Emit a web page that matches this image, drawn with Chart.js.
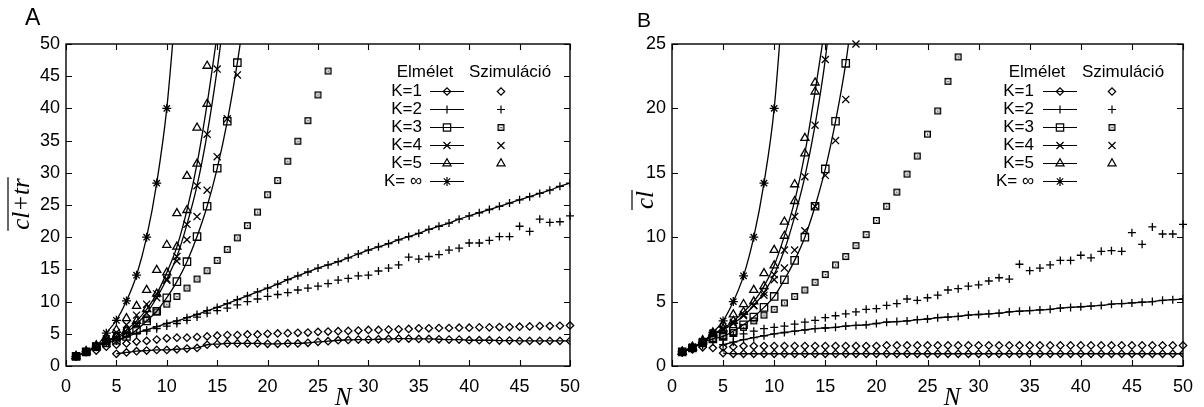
<!DOCTYPE html>
<html>
<head>
<meta charset="utf-8">
<script src="https://cdn.jsdelivr.net/npm/chart.js@4.4.0/dist/chart.umd.min.js"></script>
<style>
body { margin: 0; background: #fff; }
#wrapA { position: absolute; left: 0; top: 0; width: 590px; height: 407px; }
#wrapB { position: absolute; left: 600px; top: 0; width: 604px; height: 407px; }
</style>
</head>
<body>
<div id="wrapA"><canvas id="chartA" width="590" height="407"></canvas></div>
<div id="wrapB"><canvas id="chartB" width="604" height="407"></canvas></div>
<script>
// N values (x categories)
var N = [1, 2, 3, 4, 5, 6, 7, 8, 9, 10, 11, 12, 13, 14, 15, 16, 17, 18, 19, 20,
    21, 22, 23, 24, 25, 26, 27, 28, 29, 30, 31, 32, 33, 34, 35, 36, 37, 38, 39, 40,
    41, 42, 43, 44, 45, 46, 47, 48, 49, 50];
var kLabels = ['K=1', 'K=2', 'K=3', 'K=4', 'K=5', 'K= \u221E'];
var xTicks = [0, 5, 10, 15, 20, 25, 30, 35, 40, 45, 50];
var yTicksA = [0, 5, 10, 15, 20, 25, 30, 35, 40, 45, 50];
var yTicksB = [0, 5, 10, 15, 20, 25];

// panel A: cl+tr  (index 0 = N=1, null = no point)
var aTheoryK1 = [null, null, null, null, 1.9, 2.1, 2.3, 2.4, 2.5, 2.5, 2.6, 2.7, 2.8, 3.3,
    3.4, 3.5, 3.5, 3.5, 3.5, 3.45, 3.45, 3.5, 3.5, 3.6, 3.75, 3.85, 4.0, 4.05, 4.1, 4.1,
    4.15, 4.2, 4.25, 4.25, 4.2, 4.2, 4.15, 4.1, 4.1, 4.0, 4.0, 4.0, 3.95, 3.95, 3.9, 3.9,
    3.9, 3.9, 3.9, 3.9];
var aTheoryK2 = [null, null, null, null, 3.9, 4.5, 5.1, 5.6, 6.1, 6.6, 7.0, 7.5, 8.0, 8.6,
    9.1, 9.7, 10.3, 10.9, 11.5, 12.1, 12.7, 13.4, 14.0, 14.6, 15.2, 15.7, 16.2, 16.8, 17.4, 18.0,
    18.5, 19.0, 19.6, 20.1, 20.6, 21.2, 21.7, 22.2, 22.8, 23.3, 23.8, 24.3, 24.8, 25.3,
    25.8, 26.3, 26.8, 27.3, 27.9, 28.4];
var aTheoryK3 = [1.5, 2.2, 3.0, 3.6, 4.0, 4.6, 5.6, 7.0, 8.5, 10.6, 13.1, 16.2, 20.1, 24.8,
    30.7, 38.0, 47.1, 58];
var aTheoryK4 = [1.5, 2.2, 3.0, 3.9, 4.3, 5.2, 6.5, 8.2, 10.6, 13.5, 17.0, 22.0, 28.0, 36.0,
    46.1, 58];
var aTheoryK5 = [1.5, 2.2, 3.0, 4.0, 4.5, 5.6, 7.0, 8.8, 11.2, 14.5, 18.5, 24.2, 31.4, 40.7, 51.5];
var aTheoryKinf = [1.5, 2.2, 3.0, 5.1, 7.1, 10.1, 14.1, 20.0, 28.4, 40.0, 58];

var aSimK1 = [1.5, 2.2, 2.4, 3.0, 3.3, 3.5, 3.8, 3.9, 4.1, 4.3, 4.4, 4.4, 4.5, 4.6, 4.7, 4.8,
    4.8, 4.9, 4.9, 5.0, 5.05, 5.1, 5.15, 5.2, 5.3, 5.35, 5.4, 5.45, 5.5, 5.6, 5.6, 5.65, 5.7,
    5.75, 5.85, 5.85, 5.9, 5.9, 5.95, 5.95, 6.0, 6.0, 6.05, 6.05, 6.1, 6.15, 6.2, 6.2, 6.25, 6.3];
var aSimK2 = [1.5, 2.2, 3.0, 3.7, 4.2, 4.6, 5.0, 5.4, 5.8, 6.2, 6.6, 7.1, 7.6, 8.2, 8.6, 9.0,
    9.5, 10.0, 10.4, 10.8, 11.1, 11.4, 11.8, 12.1, 12.4, 12.8, 13.35, 13.6, 14.0, 14.1, 14.75,
    15.2, 15.7, 16.9, 16.6, 17.0, 17.3, 18.0, 18.3, 19.1, 19.1, 19.5, 20.1, 20.1, 21.7, 20.9,
    22.8, 22.3, 22.4, 23.3];
var aSimK3 = [1.5, 2.2, 3.0, 3.8, 4.6, 5.5, 6.4, 7.3, 8.4, 9.6, 10.8, 12.1, 13.5, 14.8, 16.4,
    18.1, 19.9, 21.8, 23.9, 26.6, 28.8, 31.8, 34.9, 38.1, 42.1, 45.8];
var aSimK4 = [1.5, 2.2, 3.1, 4.2, 5.2, 6.4, 7.9, 9.6, 11.2, 13.3, 16.3, 19.6, 23.2, 27.3, 32.5,
    38.4, 45.2];
var aSimK5 = [1.5, 2.3, 3.2, 4.4, 5.6, 7.4, 9.3, 11.8, 14.9, 18.8, 23.7, 29.5, 37.0, 46.6];

// panel B: cl
var bTheoryK1 = [null, null, null, null, 1.0, 0.95, 0.95, 0.95, 0.95, 0.95, 0.95, 0.95, 0.95,
    0.95, 0.95, 0.95, 0.95, 0.95, 0.95, 0.95, 0.95, 0.95, 0.95, 0.95, 0.95, 0.95, 0.95, 0.95,
    0.95, 0.95, 0.95, 0.95, 0.95, 0.95, 0.95, 0.95, 0.95, 0.95, 0.95, 0.95, 0.95, 0.95, 0.95,
    0.95, 0.95, 0.95, 0.95, 0.95, 0.95, 0.95];
var bTheoryK2 = [null, null, null, null, 1.65, 1.85, 2.05, 2.2, 2.35, 2.5, 2.6, 2.7, 2.8, 2.9,
    2.95, 3.0, 3.1, 3.15, 3.2, 3.3, 3.4, 3.45, 3.5, 3.6, 3.65, 3.75, 3.8, 3.85, 3.95, 4.0,
    4.05, 4.1, 4.2, 4.25, 4.3, 4.35, 4.4, 4.5, 4.55, 4.6, 4.65, 4.7, 4.8, 4.85, 4.9, 4.95,
    5.0, 5.1, 5.15, 5.2];
var bTheoryK3 = [1.1, 1.4, 1.8, 2.1, 2.3, 2.7, 3.2, 3.8, 4.55, 5.4, 6.7, 8.2, 10.0, 12.4, 15.3,
    19.0, 23.5, 29.5];
var bTheoryK4 = [1.1, 1.4, 1.8, 2.4, 2.8, 3.3, 3.9, 4.7, 5.7, 7.1, 9.0, 11.6, 14.7, 18.7, 23.8, 31];
var bTheoryK5 = [1.1, 1.4, 1.9, 2.5, 2.9, 3.5, 4.2, 5.0, 6.2, 7.8, 10.1, 12.8, 16.5, 21.3, 26.5];
var bTheoryKinf = [1.1, 1.5, 1.8, 2.6, 3.5, 5.0, 7.0, 10.0, 14.2, 20.0, 30];

var bSimK1 = [1.1, 1.3, 1.45, 1.4, 1.45, 1.5, 1.55, 1.55, 1.55, 1.55, 1.55, 1.55, 1.55, 1.55,
    1.55, 1.55, 1.55, 1.55, 1.55, 1.55, 1.6, 1.6, 1.6, 1.6, 1.6, 1.6, 1.6, 1.6, 1.6, 1.6, 1.6,
    1.6, 1.6, 1.6, 1.6, 1.6, 1.6, 1.6, 1.6, 1.6, 1.6, 1.6, 1.6, 1.6, 1.6, 1.6, 1.6, 1.6, 1.6, 1.6];
var bSimK2 = [1.0, 1.3, 1.6, 1.9, 2.1, 2.3, 2.5, 2.7, 2.9, 3.0, 3.1, 3.25, 3.4, 3.55, 3.75, 3.9,
    4.05, 4.2, 4.4, 4.45, 4.7, 4.85, 5.2, 5.1, 5.3, 5.5, 5.9, 6.0, 6.2, 6.3, 6.6, 6.85, 6.75,
    7.9, 7.4, 7.6, 7.85, 8.2, 8.2, 8.6, 8.4, 8.9, 8.95, 8.9, 10.35, 9.45, 10.8, 10.25, 10.25, 11.0];
var bSimK3 = [1.1, 1.4, 1.8, 2.1, 2.3, 2.6, 3.0, 3.5, 3.95, 4.4, 4.9, 5.4, 5.9, 6.5, 7.1, 7.85,
    8.5, 9.35, 10.2, 11.3, 12.4, 13.5, 14.9, 16.3, 18.0, 19.8, 22.1, 24.0];
var bSimK4 = [1.1, 1.4, 1.9, 2.5, 2.9, 3.4, 4.0, 4.7, 5.5, 6.7, 7.6, 9.0, 10.5, 12.4, 14.8, 17.5,
    20.7, 25.0];
var bSimK5 = [1.1, 1.5, 2.0, 2.6, 3.2, 4.0, 4.8, 5.9, 7.2, 9.0, 11.2, 14.1, 17.7, 22.0];

// boxed dot marker used for the K=3 simulation points
var dotBox = document.createElement('canvas');
dotBox.width = 9;
dotBox.height = 9;
var dctx = dotBox.getContext('2d');
dctx.fillStyle = '#000';
dctx.fillRect(1, 1, 7, 1.4);
dctx.fillRect(1, 6.6, 7, 1.4);
dctx.fillRect(1, 1, 1.4, 7);
dctx.fillRect(6.6, 1, 1.4, 7);
dctx.fillRect(4, 4, 1.2, 1.2);

var theoryMarks = [
    { style: 'rectRot', r: 3.7 },
    { style: 'cross', r: 4 },
    { style: 'rect', r: 5.2 },
    { style: 'crossRot', r: 5 },
    { style: 'triangle', r: 4.7 },
    { style: 'star', r: 4.5 }
];
var simMarks = [
    { style: 'rectRot', r: 3.7 },
    { style: 'cross', r: 4 },
    { style: dotBox, r: 4 },
    { style: 'crossRot', r: 5 },
    { style: 'triangle', r: 4.7 }
];

var SANS = "'Liberation Sans', Arial, sans-serif";
var SERIF = "'Liberation Serif', 'DejaVu Serif', serif";

function toPoints(values) {
    var pts = [];
    for (var i = 0; i < values.length; i++) {
        if (values[i] !== null) pts.push({ x: N[i], y: values[i] });
    }
    return pts;
}

function buildDatasets(theory, sim) {
    var sets = [];
    theory.forEach(function(values, i) {
        sets.push({
            label: 'Elmélet ' + kLabels[i],
            data: toPoints(values),
            borderColor: '#000',
            borderWidth: 1.3,
            pointStyle: theoryMarks[i].style,
            pointRadius: theoryMarks[i].r,
            pointBorderWidth: 1.3,
            pointBorderColor: '#000',
            pointBackgroundColor: 'rgba(0,0,0,0)',
            cubicInterpolationMode: 'monotone',
            fill: false,
            clip: 0
        });
    });
    sim.forEach(function(values, i) {
        sets.push({
            label: 'Szimuláció ' + kLabels[i],
            data: toPoints(values),
            showLine: false,
            borderColor: '#000',
            pointStyle: simMarks[i].style,
            pointRadius: simMarks[i].r,
            pointBorderWidth: 1.3,
            pointBorderColor: '#000',
            pointBackgroundColor: 'rgba(0,0,0,0)',
            clip: 8
        });
    });
    return sets;
}

function drawMark(ctx, mark, x, y) {
    ctx.strokeStyle = '#000';
    ctx.fillStyle = 'rgba(0,0,0,0)';
    ctx.lineWidth = 1.2;
    Chart.helpers.drawPoint(ctx, { pointStyle: mark.style, radius: mark.r, rotation: 0, borderWidth: 1.2 }, x, y);
}

// frame, inward ticks, legend table and axis titles
var decor = {
    id: 'decor',
    afterDraw: function(chart, args, o) {
        var ctx = chart.ctx;
        var a = chart.chartArea;
        var xs = chart.scales.x;
        var ys = chart.scales.y;
        ctx.save();
        ctx.strokeStyle = '#000';
        ctx.lineWidth = 1.4;
        ctx.strokeRect(a.left, a.top, a.right - a.left, a.bottom - a.top);

        ctx.lineWidth = 1.1;
        ctx.beginPath();
        xTicks.forEach(function(v) {
            var px = Math.round(xs.getPixelForValue(v)) + 0.5;
            ctx.moveTo(px, a.bottom);
            ctx.lineTo(px, a.bottom - 6);
            ctx.moveTo(px, a.top);
            ctx.lineTo(px, a.top + 6);
        });
        o.yTicks.forEach(function(v) {
            var py = Math.round(ys.getPixelForValue(v)) + 0.5;
            ctx.moveTo(a.left, py);
            ctx.lineTo(a.left + 6, py);
            ctx.moveTo(a.right, py);
            ctx.lineTo(a.right - 6, py);
        });
        ctx.stroke();

        // legend
        var L = o.legend;
        ctx.fillStyle = '#000';
        ctx.font = '17px ' + SANS;
        ctx.textBaseline = 'middle';
        ctx.textAlign = 'center';
        ctx.fillText('Elmélet', L.elmX, L.headY);
        ctx.fillText('Szimuláció', L.szimX, L.headY);
        kLabels.forEach(function(lab, i) {
            var y = L.rowY + i * L.rowStep;
            ctx.fillStyle = '#000';
            ctx.font = '17px ' + SANS;
            ctx.textAlign = 'right';
            ctx.fillText(lab, L.labelX, y);
            ctx.strokeStyle = '#000';
            ctx.lineWidth = 1.2;
            ctx.beginPath();
            ctx.moveTo(L.lineX1, y + 0.5);
            ctx.lineTo(L.lineX2, y + 0.5);
            ctx.stroke();
            drawMark(ctx, theoryMarks[i], (L.lineX1 + L.lineX2) / 2, y + 0.5);
            if (i < simMarks.length) drawMark(ctx, simMarks[i], L.simX, y + 0.5);
        });

        // panel letter
        ctx.fillStyle = '#000';
        ctx.textAlign = 'left';
        ctx.textBaseline = 'alphabetic';
        ctx.font = o.letterSize + 'px ' + SANS;
        ctx.fillText(o.letter, o.letterX, o.letterY);

        // x title
        ctx.font = 'italic 25px ' + SERIF;
        ctx.textAlign = 'center';
        ctx.fillText('N', o.nX, 405);

        // y title with overline
        ctx.save();
        ctx.translate(o.yTitleX, o.yTitleY);
        ctx.rotate(-Math.PI / 2);
        ctx.font = 'italic 25px ' + SERIF;
        ctx.textAlign = 'center';
        ctx.fillText(o.yTitle, 0, 0);
        var w = ctx.measureText(o.yTitle).width;
        ctx.lineWidth = 1.2;
        ctx.beginPath();
        ctx.moveTo(-w / 2 - 1, -21);
        ctx.lineTo(w / 2 + 1, -21);
        ctx.stroke();
        ctx.restore();

        ctx.restore();
    }
};

function makeChart(id, datasets, yMax, yWidth, rightPad, deco) {
    return new Chart(document.getElementById(id), {
        type: 'line',
        data: { datasets: datasets },
        options: {
            responsive: false,
            animation: false,
            events: [],
            layout: { padding: { top: 44, right: rightPad, left: 0, bottom: 0 } },
            scales: {
                x: {
                    type: 'linear',
                    min: 0,
                    max: 50,
                    grid: { display: false, drawTicks: false },
                    border: { display: false },
                    ticks: { stepSize: 5, color: '#000', padding: 10, font: { family: SANS, size: 18 } },
                    afterFit: function(s) { s.height = 41; }
                },
                y: {
                    min: 0,
                    max: yMax,
                    grid: { display: false, drawTicks: false },
                    border: { display: false },
                    ticks: { stepSize: 5, color: '#000', padding: 6, font: { family: SANS, size: 18 } },
                    afterFit: function(s) { s.width = yWidth; }
                }
            },
            plugins: {
                legend: { display: false },
                tooltip: { enabled: false },
                decor: deco
            }
        },
        plugins: [decor]
    });
}

makeChart('chartA',
    buildDatasets([aTheoryK1, aTheoryK2, aTheoryK3, aTheoryK4, aTheoryK5, aTheoryKinf],
        [aSimK1, aSimK2, aSimK3, aSimK4, aSimK5]),
    50, 66, 12, {
        yTicks: yTicksA,
        legend: { elmX: 425, szimX: 510, headY: 72, labelX: 422, lineX1: 430, lineX2: 464, simX: 501, rowY: 91, rowStep: 18 },
        letter: 'A', letterX: 25, letterY: 25, letterSize: 23,
        nX: 343, yTitle: 'cl+tr', yTitleX: 29, yTitleY: 204
    });

makeChart('chartB',
    buildDatasets([bTheoryK1, bTheoryK2, bTheoryK3, bTheoryK4, bTheoryK5, bTheoryKinf],
        [bSimK1, bSimK2, bSimK3, bSimK4, bSimK5]),
    25, 72, 21, {
        yTicks: yTicksB,
        legend: { elmX: 437, szimX: 523, headY: 72, labelX: 434, lineX1: 443, lineX2: 477, simX: 512, rowY: 91, rowStep: 18 },
        letter: 'B', letterX: 37, letterY: 27, letterSize: 21,
        nX: 352, yTitle: 'cl', yTitleX: 53, yTitleY: 200
    });
</script>
</body>
</html>
